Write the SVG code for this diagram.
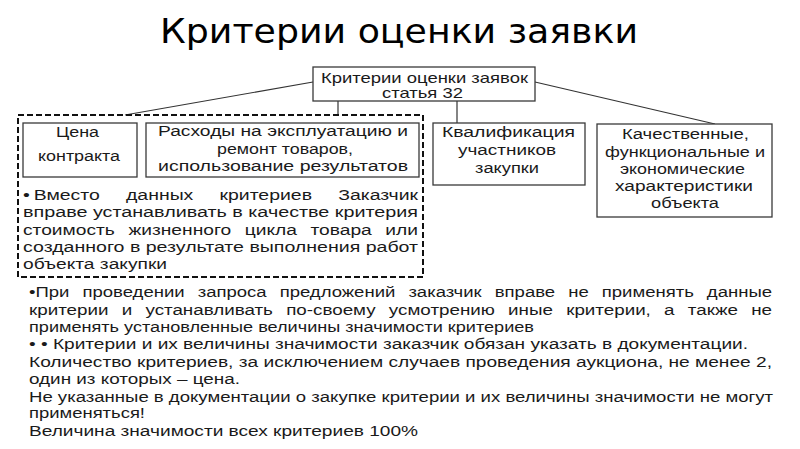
<svg xmlns="http://www.w3.org/2000/svg" width="800" height="449" viewBox="0 0 800 449">
<style>
  .t { font-family: "Liberation Sans", Arial, sans-serif; font-size: 14px; fill: #1a1a1a; }
  .title { font-family: "DejaVu Sans", "Liberation Sans", sans-serif; font-size: 33px; fill: #000; }
  .box { fill: #fff; stroke: #3a3a3a; stroke-width: 1.3; }
  .dash { fill: none; stroke: #111; stroke-width: 2; stroke-dasharray: 6 3; }
  .conn { fill: none; stroke: #333; stroke-width: 1.2; }
</style>
<rect width="800" height="449" fill="#fff"/>
<text class="title" x="160" y="43" textLength="478" lengthAdjust="spacingAndGlyphs">Критерии оценки заявки</text>

<g id="connectors">
  <line class="conn" x1="313" y1="82" x2="125" y2="115"/>
  <line class="conn" x1="535" y1="82" x2="715" y2="124"/>
  <line class="conn" x1="338" y1="101" x2="338" y2="115"/>
  <line class="conn" x1="457" y1="101" x2="457" y2="123"/>
</g>

<g id="root">
  <rect class="box" x="313" y="67" width="222" height="34"/>
  <text class="t" style="font-size:14.5px" x="321" y="83" textLength="207" lengthAdjust="spacingAndGlyphs">Критерии оценки заявок</text>
  <text class="t" style="font-size:14.5px" x="382" y="98" textLength="81" lengthAdjust="spacingAndGlyphs">статья 32</text>
</g>

<g id="group-price-costs">
  <rect class="dash" x="18" y="115" width="405" height="162"/>
  <g id="price">
    <rect class="box" x="23" y="123" width="114" height="54"/>
    <text class="t" x="56" y="137" textLength="43" lengthAdjust="spacingAndGlyphs">Цена</text>
    <text class="t" x="38" y="161" textLength="82" lengthAdjust="spacingAndGlyphs">контракта</text>
  </g>
  <g id="costs">
    <rect class="box" x="146" y="123" width="273" height="54"/>
    <text class="t" x="158" y="136" textLength="250" lengthAdjust="spacingAndGlyphs">Расходы на эксплуатацию и</text>
    <text class="t" x="217" y="153.5" textLength="136" lengthAdjust="spacingAndGlyphs">ремонт товаров,</text>
    <text class="t" x="158" y="171" textLength="250" lengthAdjust="spacingAndGlyphs">использование результатов</text>
  </g>
  <g id="lifecycle-note">
    <text class="t" x="23" y="200" textLength="395" lengthAdjust="spacingAndGlyphs" style="word-spacing:15px">•&#8201;Вместо данных критериев Заказчик</text>
    <text class="t" x="23" y="217" textLength="395" lengthAdjust="spacingAndGlyphs">вправе устанавливать в качестве критерия</text>
    <text class="t" x="23" y="235" textLength="395" lengthAdjust="spacingAndGlyphs" style="word-spacing:6px">стоимость жизненного цикла товара или</text>
    <text class="t" x="23" y="252" textLength="395" lengthAdjust="spacingAndGlyphs">созданного в результате выполнения работ</text>
    <text class="t" x="23" y="269" textLength="144" lengthAdjust="spacingAndGlyphs">объекта закупки</text>
  </g>
</g>

<g id="qualification">
  <rect class="box" x="433" y="123" width="152" height="62"/>
  <text class="t" x="442" y="137" textLength="133" lengthAdjust="spacingAndGlyphs">Квалификация</text>
  <text class="t" x="458" y="155" textLength="98" lengthAdjust="spacingAndGlyphs">участников</text>
  <text class="t" x="475" y="172.5" textLength="64" lengthAdjust="spacingAndGlyphs">закупки</text>
</g>

<g id="quality">
  <rect class="box" x="597" y="124" width="175" height="93"/>
  <text class="t" x="622" y="139" textLength="127" lengthAdjust="spacingAndGlyphs">Качественные,</text>
  <text class="t" x="605" y="156.5" textLength="160" lengthAdjust="spacingAndGlyphs">функциональные и</text>
  <text class="t" x="620" y="174" textLength="125" lengthAdjust="spacingAndGlyphs">экономические</text>
  <text class="t" x="615" y="191" textLength="138" lengthAdjust="spacingAndGlyphs">характеристики</text>
  <text class="t" x="651" y="208" textLength="68" lengthAdjust="spacingAndGlyphs">объекта</text>
</g>

<g id="notes">
  <text class="t" x="29" y="297" textLength="743" lengthAdjust="spacingAndGlyphs" style="word-spacing:6px">•При проведении запроса предложений заказчик вправе не применять данные</text>
  <text class="t" x="29" y="315" textLength="743" lengthAdjust="spacingAndGlyphs" style="word-spacing:6px">критерии и устанавливать по-своему усмотрению иные критерии, а также не</text>
  <text class="t" x="29" y="332" textLength="505" lengthAdjust="spacingAndGlyphs">применять установленные величины значимости критериев</text>
  <text class="t" x="29" y="349" textLength="719" lengthAdjust="spacingAndGlyphs">• • Критерии и их величины значимости заказчик обязан указать в документации.</text>
  <text class="t" x="29" y="367" textLength="743" lengthAdjust="spacingAndGlyphs">Количество критериев, за исключением случаев проведения аукциона, не менее 2,</text>
  <text class="t" x="29" y="384" textLength="211" lengthAdjust="spacingAndGlyphs">один из которых – цена.</text>
  <text class="t" x="29" y="402" textLength="744" lengthAdjust="spacingAndGlyphs">Не указанные в документации о закупке критерии и их величины значимости не могут</text>
  <text class="t" x="29" y="418" textLength="116" lengthAdjust="spacingAndGlyphs">применяться!</text>
  <text class="t" x="29" y="436" textLength="389" lengthAdjust="spacingAndGlyphs">Величина значимости всех критериев 100%</text>
</g>
</svg>
